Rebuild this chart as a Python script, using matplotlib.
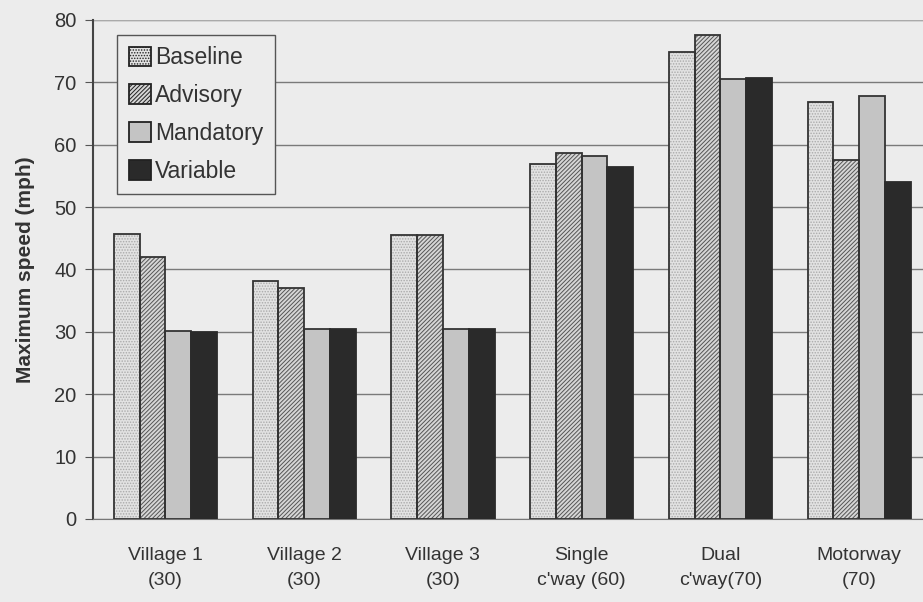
import numpy as np
import matplotlib.pyplot as plt
from matplotlib.patches import Patch

plt.rcParams['font.family'] = ['Liberation Sans', 'DejaVu Sans']
plt.rcParams['hatch.linewidth'] = 0.7

categories = ["Village 1\n(30)", "Village 2\n(30)", "Village 3\n(30)",
              "Single\nc'way (60)", "Dual\nc'way(70)", "Motorway\n(70)"]
baseline = [45.7, 38.1, 45.5, 56.9, 74.8, 66.8]
advisory = [42.0, 37.0, 45.5, 58.7, 77.6, 57.5]
mandatory = [30.1, 30.4, 30.5, 58.2, 70.5, 67.8]
variable = [30.0, 30.4, 30.5, 56.4, 70.7, 54.0]
series_names = ["Baseline", "Advisory", "Mandatory", "Variable"]

bg = "#ececec"
fig = plt.figure(figsize=(9.23, 6.02), dpi=100, facecolor=bg)
ax = fig.add_axes([0.101, 0.138, 0.905, 0.829])
ax.set_facecolor(bg)

x = np.arange(len(categories))
w = 0.186
# facecolor, hatch, hatch colour, outline colour
styles = [
    ("#e2e2e2", "......", "#aaaaaa", "#333333"),
    ("#d6d6d6", "////////", "#555555", "#333333"),
    ("#c4c4c4", None, "#c4c4c4", "#333333"),
    ("#2a2a2a", None, "#2a2a2a", "#2a2a2a"),
]
data = [baseline, advisory, mandatory, variable]
handles = []
for i, (vals, st) in enumerate(zip(data, styles)):
    fc, hatch, hc, ec = st
    pos = x + (i - 1.5) * w
    ax.bar(pos, vals, w, facecolor=fc, hatch=hatch, edgecolor=hc, linewidth=0, zorder=3)
    ax.bar(pos, vals, w, facecolor="none", edgecolor=ec, linewidth=1.3, zorder=4)
    handles.append(Patch(facecolor=fc, hatch=hatch, edgecolor="#222222",
                         linewidth=1.3, label=series_names[i]))

ax.set_xlim(-0.52, len(categories) - 0.5)
ax.set_ylim(0, 80)
ax.set_yticks(np.arange(0, 81, 10))
ax.set_xticks(x)
ax.set_xticklabels(categories, fontsize=14, color="#333333", linespacing=1.65)
ax.tick_params(axis="y", labelsize=14.5, labelcolor="#333333", length=6, color="#555555", pad=6)
ax.tick_params(axis="x", length=0, pad=20)
ax.yaxis.grid(True, color="#7a7a7a", linewidth=1.0, zorder=0)
ax.set_axisbelow(True)
ax.set_ylabel("Maximum speed (mph)", fontsize=15, fontweight="bold", color="#333333", labelpad=14)

for s in ["top", "right"]:
    ax.spines[s].set_visible(False)
ax.spines["left"].set_color("#444444")
ax.spines["left"].set_linewidth(1.5)
ax.spines["bottom"].set_color("#777777")
ax.axhline(80, color="#aaaaaa", linewidth=0.8, zorder=1)

leg = ax.legend(handles=handles, loc="upper left", bbox_to_anchor=(0.029, 0.97),
                borderaxespad=0, fontsize=16.5, frameon=True, fancybox=False,
                edgecolor="#555555", facecolor=bg, framealpha=1,
                handlelength=0.95, handleheight=0.95, handletextpad=0.2,
                labelspacing=0.65, borderpad=0.5)
leg.get_frame().set_linewidth(1.0)
for t in leg.get_texts():
    t.set_color("#333333")

fig.savefig("out.png", dpi=100, facecolor=bg)
